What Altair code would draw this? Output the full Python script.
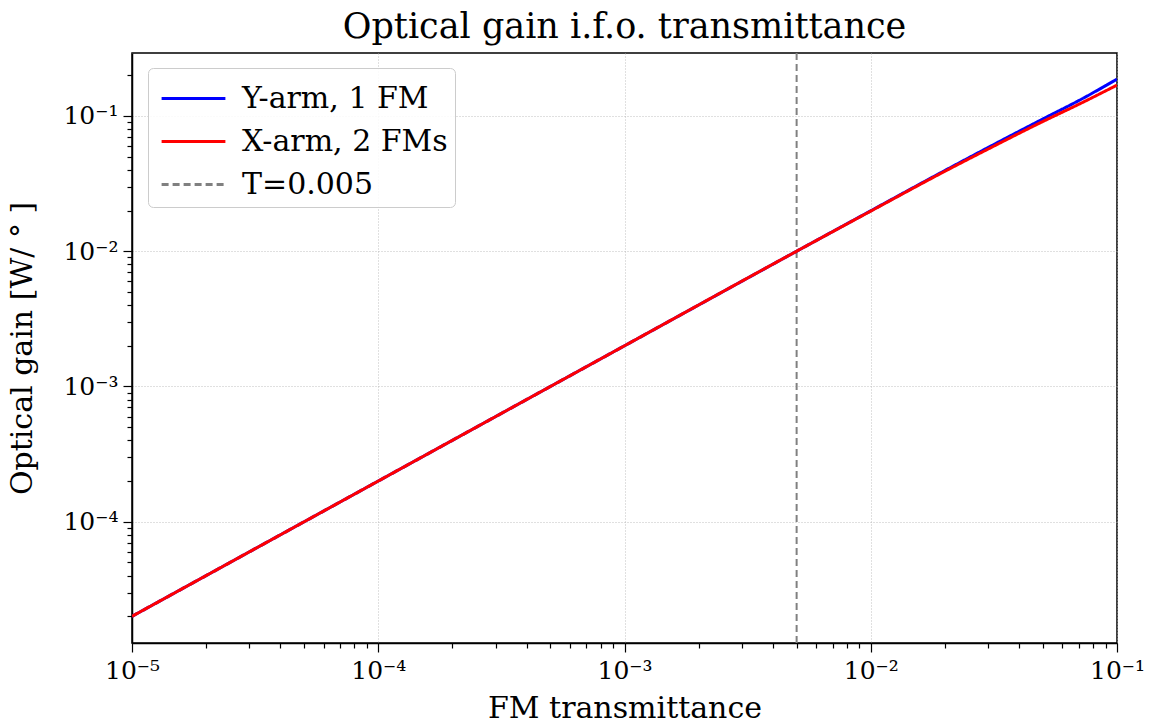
import altair as alt
import pandas as pd

# FM transmittance sample points and optical gain per arm (W/deg)
transmittance = [1e-5, 1e-4, 1e-3, 5e-3, 1e-2, 2e-2, 3e-2, 5e-2, 7e-2, 1e-1]
gain_y_arm = [2.0e-5, 2.0e-4, 2.0e-3, 1.0e-2, 1.99e-2, 3.95e-2, 5.85e-2, 9.5e-2, 1.3e-1, 1.87e-1]
gain_x_arm = [2.0e-5, 2.0e-4, 2.0e-3, 1.0e-2, 1.98e-2, 3.9e-2, 5.7e-2, 9.1e-2, 1.22e-1, 1.69e-1]
t_marker = [0.005]

series_names = ["Y-arm, 1 FM", "X-arm, 2 FMs", "T=0.005"]
series_colors = ["#0000ff", "#ff0000", "#808080"]
series_dash = [[1, 0], [1, 0], [7, 4]]

x_domain = [1e-5, 1e-1]
y_domain = [1.27e-5, 0.292]

# decade and intermediate tick positions
x_ticks = [m * 10.0 ** e for e in range(-5, -1) for m in range(1, 10)] + [1e-1]
y_ticks = [m * 10.0 ** e for e in range(-5, 0) for m in range(1, 10)]
y_ticks = [v for v in y_ticks if y_domain[0] <= v <= y_domain[1]]

rows = []
for x, yv in zip(transmittance, gain_y_arm):
    rows.append({"T": x, "gain": yv, "series": series_names[0], "order": 0})
for x, xv in zip(transmittance, gain_x_arm):
    rows.append({"T": x, "gain": xv, "series": series_names[1], "order": 1})
curves = pd.DataFrame(rows)
marker = pd.DataFrame({"T": t_marker, "series": [series_names[2]]})

FONT = "DejaVu Serif"
major = "abs(log(datum.value)/LN10 - round(log(datum.value)/LN10)) < 0.001"
exp_label = (
    "round(log(datum.value)/LN10) == -5 ? '10⁻⁵' : "
    "round(log(datum.value)/LN10) == -4 ? '10⁻⁴' : "
    "round(log(datum.value)/LN10) == -3 ? '10⁻³' : "
    "round(log(datum.value)/LN10) == -2 ? '10⁻²' : '10⁻¹'"
)
label_expr = f"({major}) ? ({exp_label}) : ''"


def make_axis(title, values, title_pad, label_pad):
    return alt.Axis(
        title=title,
        values=values,
        labelExpr=label_expr,
        labelOverlap=False,
        labelFlush=False,
        labelBound=False,
        labelFont=FONT,
        labelFontSize=25,
        labelColor="black",
        labelPadding=label_pad,
        titleFont=FONT,
        titleFontSize=30,
        titleFontWeight="normal",
        titleColor="black",
        titlePadding=title_pad,
        tickColor="black",
        tickWidth=1.2,
        tickSize={"condition": {"test": major, "value": 9}, "value": 5},
        domainColor="black",
        domainWidth=1.5,
        grid=True,
        gridColor="#b0b0b0",
        gridDash=[1, 2],
        gridWidth=0.8,
        gridOpacity={"condition": {"test": major, "value": 1}, "value": 0},
    )


x_enc = alt.X(
    "T:Q",
    scale=alt.Scale(type="log", domain=x_domain, nice=False),
    axis=make_axis("FM transmittance", x_ticks, 10, 6),
)

color_scale = alt.Scale(domain=series_names, range=series_colors)
dash_scale = alt.Scale(domain=series_names, range=series_dash)

legend = alt.Legend(
    title=None,
    orient="none",
    legendX=16,
    legendY=15,
    symbolType="M-1.45,0H1.45",
    symbolSize=1936,
    symbolStrokeWidth=3,
    symbolOffset=15,
    labelOffset=25,
    labelFont=FONT,
    labelFontSize=30,
    labelColor="black",
    labelLimit=500,
    rowPadding=4,
    padding=7,
    strokeColor="#cccccc",
    fillColor="rgba(255,255,255,0.85)",
    cornerRadius=5,
)

lines = alt.Chart(curves).mark_line(strokeWidth=3, interpolate="monotone", clip=True).encode(
    x=x_enc,
    y=alt.Y(
        "gain:Q",
        scale=alt.Scale(type="log", domain=y_domain, nice=False),
        axis=make_axis("Optical gain [W/ ° ]", y_ticks, 25, 5),
    ),
    color=alt.Color("series:N", scale=color_scale, sort=series_names, legend=legend),
    strokeDash=alt.StrokeDash("series:N", scale=dash_scale, sort=series_names, legend=legend),
    order=alt.Order("order:Q"),
)

vline = alt.Chart(marker).mark_rule(strokeWidth=2).encode(
    x=alt.X("T:Q"),
    color=alt.Color("series:N", scale=color_scale, sort=series_names, legend=legend),
    strokeDash=alt.StrokeDash("series:N", scale=dash_scale, sort=series_names, legend=legend),
)

chart = (
    alt.layer(vline, lines)
    .properties(
        width=985,
        height=590,
        autosize=alt.AutoSizeParams(type="none"),
        padding={"left": 132, "top": 53, "right": 32, "bottom": 83},
        title=alt.Title(
            "Optical gain i.f.o. transmittance",
            font=FONT,
            fontSize=35,
            fontWeight="normal",
            color="black",
            offset=7,
        ),
        background="white",
    )
    .configure_view(stroke="black", strokeWidth=1.5)
)

chart.save("out.html", embed_options={"renderer": "svg", "actions": False})
